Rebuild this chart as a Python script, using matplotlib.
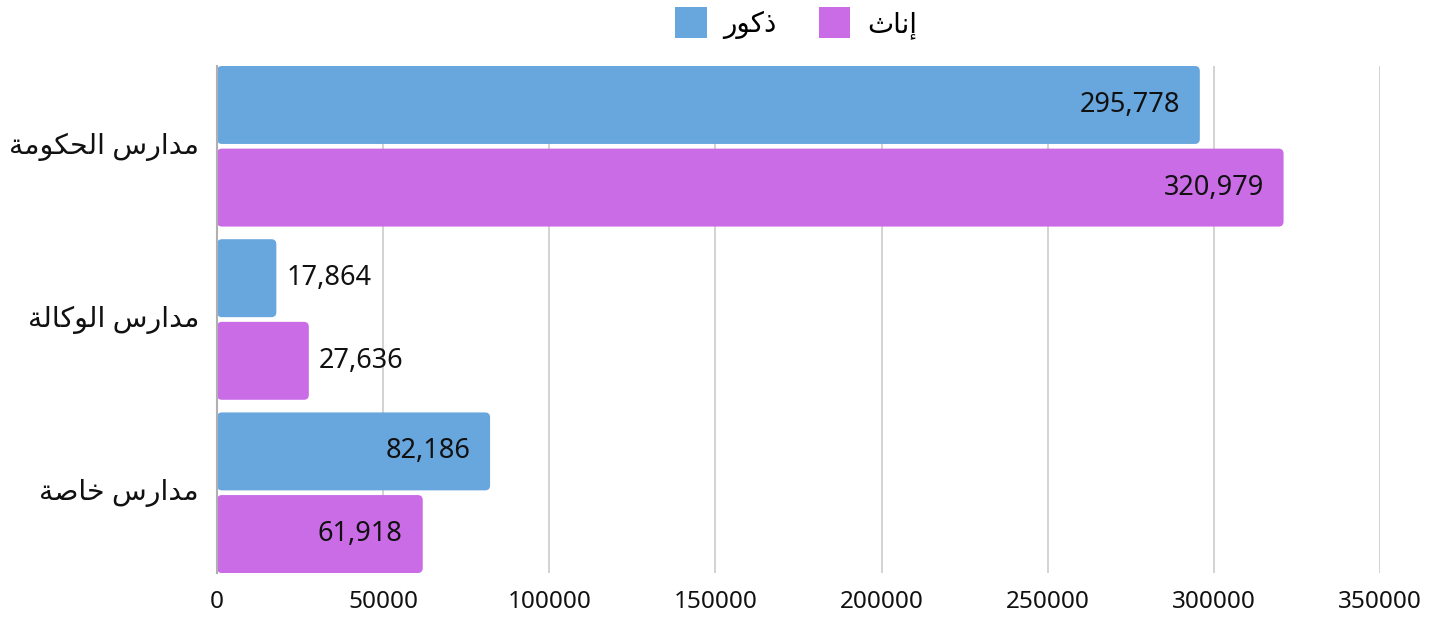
import matplotlib
matplotlib.use('Agg')
import matplotlib.pyplot as plt
from matplotlib.patches import FancyBboxPatch, Patch
from matplotlib.ticker import MultipleLocator

plt.rcParams['font.family'] = ['Noto Sans', 'DejaVu Sans']

categories = ['مدارس الحكومة', 'مدارس الوكالة', 'مدارس خاصة']
series_names = ['ذكور', 'إناث']
males = [295778, 17864, 82186]
females = [320979, 27636, 61918]
x_max = 350000

BLUE = '#68A6DE'
PINK = '#CA6CE6'

# isolated, final, initial, medial presentation forms
FORMS = {
    '\u0627': ('\uFE8D', '\uFE8E', None, None),
    '\u0625': ('\uFE87', '\uFE88', None, None),
    '\u062F': ('\uFEA9', '\uFEAA', None, None),
    '\u0630': ('\uFEAB', '\uFEAC', None, None),
    '\u0631': ('\uFEAD', '\uFEAE', None, None),
    '\u0648': ('\uFEED', '\uFEEE', None, None),
    '\u0629': ('\uFE93', '\uFE94', None, None),
    '\u0645': ('\uFEE1', '\uFEE2', '\uFEE3', '\uFEE4'),
    '\u0633': ('\uFEB1', '\uFEB2', '\uFEB3', '\uFEB4'),
    '\u0644': ('\uFEDD', '\uFEDE', '\uFEDF', '\uFEE0'),
    '\u062D': ('\uFEA1', '\uFEA2', '\uFEA3', '\uFEA4'),
    '\u0643': ('\uFED9', '\uFEDA', '\uFEDB', '\uFEDC'),
    '\u062E': ('\uFEA5', '\uFEA6', '\uFEA7', '\uFEA8'),
    '\u0635': ('\uFEB9', '\uFEBA', '\uFEBB', '\uFEBC'),
    '\u0646': ('\uFEE5', '\uFEE6', '\uFEE7', '\uFEE8'),
    '\u062B': ('\uFE99', '\uFE9A', '\uFE9B', '\uFE9C'),
}


def shape(text):
    """Join Arabic letters into their contextual forms and lay out RTL."""
    out = []
    for i, ch in enumerate(text):
        if ch not in FORMS:
            out.append(ch)
            continue
        prev = text[i - 1] if i > 0 else ''
        nxt = text[i + 1] if i + 1 < len(text) else ''
        join_prev = prev in FORMS and FORMS[prev][2] is not None
        join_next = FORMS[ch][2] is not None and nxt in FORMS
        iso, fin, ini, med = FORMS[ch]
        if join_prev and join_next:
            out.append(med)
        elif join_prev:
            out.append(fin)
        elif join_next:
            out.append(ini)
        else:
            out.append(iso)
    return ''.join(reversed(out))


fig = plt.figure(figsize=(14.5, 6.17), dpi=100)
ax = fig.add_axes([217 / 1450, 44 / 617, 1163 / 1450, 507 / 617])

pos = list(range(len(categories)))
off = 0.2385
h = 0.45
b1 = ax.barh([p - off for p in pos], males, height=h, color=BLUE)
b2 = ax.barh([p + off for p in pos], females, height=h, color=PINK)

ax.set_xlim(0, x_max)
ax.set_ylim(len(categories) - 1 + 0.4635, -0.4635)

# swap plain bars for slightly rounded ones
rx = 1500
ry = 0.029
for bars in (b1, b2):
    for r in bars:
        x, y = r.get_x(), r.get_y()
        w, hh = r.get_width(), r.get_height()
        r.set_visible(False)
        ax.add_patch(FancyBboxPatch(
            (x, y), w, hh,
            boxstyle='round,pad=0,rounding_size=%g' % rx,
            mutation_aspect=ry / rx,
            facecolor=r.get_facecolor(), edgecolor='none', zorder=2))

for vals, shift in ((males, -off), (females, off)):
    for p, v in zip(pos, vals):
        label = '{:,}'.format(v)
        if v < 40000:
            ax.annotate(label, (v, p + shift), xytext=(10, 0),
                        textcoords='offset pixels', ha='left', va='center',
                        fontsize=19.5, color='#111111', zorder=3)
        else:
            ax.annotate(label, (v, p + shift), xytext=(-20, 0),
                        textcoords='offset pixels', ha='right', va='center',
                        fontsize=19.5, color='#111111', zorder=3)

ax.set_yticks(pos)
ax.set_yticklabels([shape(c) for c in categories], fontsize=20.5,
                   color='#111111', va='center')
ax.xaxis.set_major_locator(MultipleLocator(50000))
ax.set_xticklabels([str(int(t)) for t in ax.get_xticks()], fontsize=17.5,
                   color='#111111')
ax.tick_params(length=0)
ax.tick_params(axis='y', pad=13)
ax.tick_params(axis='x', pad=12)

ax.grid(axis='x', color='#cccccc', linewidth=1.2, zorder=0)
ax.set_axisbelow(True)
for s in ('top', 'right', 'bottom'):
    ax.spines[s].set_visible(False)
ax.spines['left'].set_color('#b0b0b0')
ax.spines['left'].set_linewidth(1.5)
ax.spines['left'].set_zorder(4)

handles = [Patch(facecolor=BLUE, edgecolor='none'),
           Patch(facecolor=PINK, edgecolor='none')]
fig.legend(handles, [shape(n) for n in series_names], ncol=2,
           loc='center', bbox_to_anchor=(796 / 1450, 1 - 23 / 617),
           frameon=False, fontsize=20, handlelength=1.15,
           handleheight=1.3, columnspacing=1.5, handletextpad=0.6,
           borderaxespad=0, borderpad=0)

fig.savefig('out.png', dpi=100)
